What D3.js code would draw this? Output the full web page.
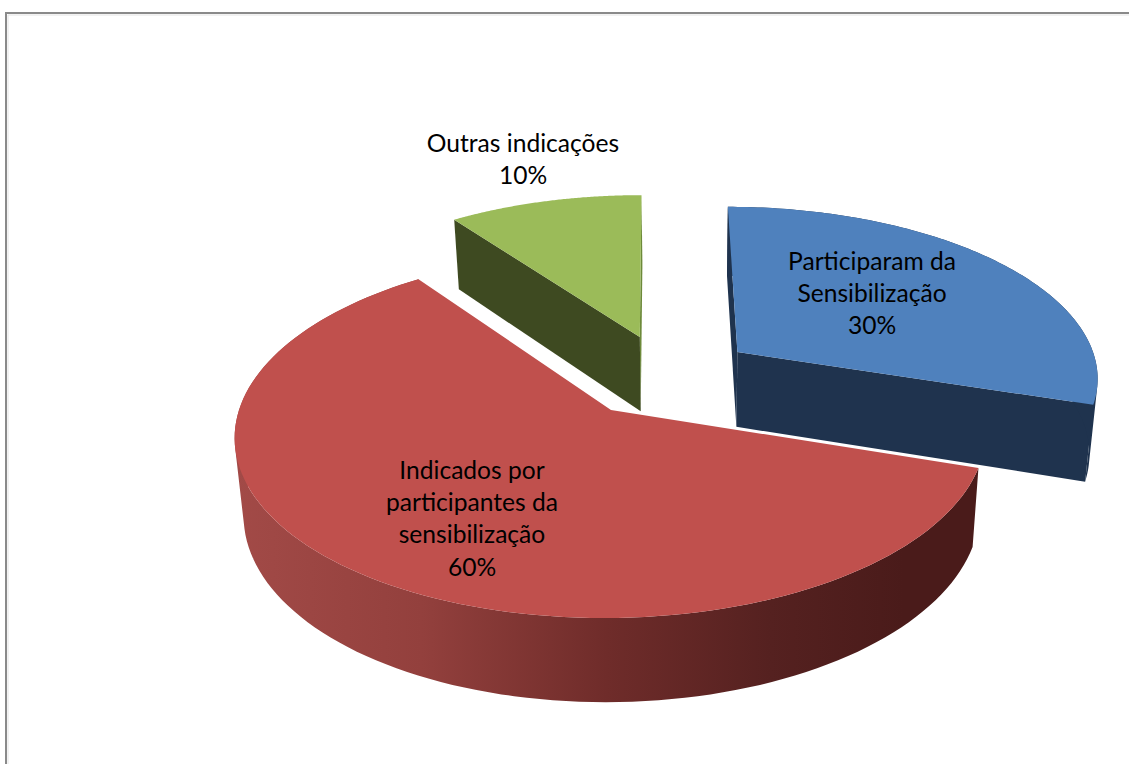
<!DOCTYPE html>
<html><head><meta charset="utf-8">
<script src="https://cdn.jsdelivr.net/npm/d3@7"></script>
<style>html,body{margin:0;padding:0;background:#fff;overflow:hidden}svg{display:block}
text{font-family:Lato,"Noto Sans",sans-serif;font-size:24.6px;fill:#000}</style>
</head><body><div id="c"></div>
<script>
const categories = ["Participaram da Sensibilização","Indicados por participantes da sensibilização","Outras indicações"];
const values = [30,60,10];
const labelLines = [["Participaram da","Sensibilização","30%"],["Indicados por","participantes da","sensibilização","60%"],["Outras indicações","10%"]];
const topColors = ["#4f81bd","#c0504d","#9bbb59"];
const sideColors = ["#1f334e","#4a1b1a","#3e4a21"];
const explode = [[0.35,-0.338],[0,0],[0.075,-0.43]];
const labelPos = [[872,261],[472,470],[523,143]];

const W=1129,H=764;
const svg=d3.select("#c").append("svg").attr("width",W).attr("height",H);

// frame
svg.append("path").attr("d","M6 764V13H1129").attr("fill","none").attr("stroke","#8a8a8a").attr("stroke-width",2);
svg.append("path").attr("d","M8 764V15H1129").attr("fill","none").attr("stroke","#e4e4e4").attr("stroke-width",1);

// perspective projection of the pie's disc
const cx=611,cy=410,A=372,S=6,B=179.6,k=0.1366,D=77,k2=0.085,shrink=0.98,botShift=1.5;
const top3=(u,v)=>{const w=1-k*v;return [cx+(A*u-S*v)/w,cy+B*v/w];};
const bot3=(u,v)=>{const w=1-k*v;return [cx+botShift+shrink*(A*u-S*v)/w,cy+B*v/w+D/(1-k2*v)];};

const pie=d3.pie().sort(null).startAngle(0).endAngle(2*Math.PI);
const arcs=pie(values);
const line=d3.line();
const rim=(e,fn,a0,a1)=>d3.range(0,121).map(i=>{const t=a0+(a1-a0)*i/120;return fn(Math.sin(t)+e[0],-Math.cos(t)+e[1]);});
const oriented=q=>d3.polygonArea(q)<0?q.slice().reverse():q;

// gradient for red wall
const defs=svg.append("defs");
const g=defs.append("linearGradient").attr("id","redWall").attr("gradientUnits","userSpaceOnUse")
  .attr("x1",236).attr("x2",978).attr("y1",0).attr("y2",0);
[[0,"#a24a47"],[0.25,"#93403d"],[0.5,"#6f2c2a"],[0.72,"#552120"],[0.9,"#4a1b1a"],[1,"#4a1b1a"]]
  .forEach(s=>g.append("stop").attr("offset",s[0]).attr("stop-color",s[1]));

// draw order: back slices first
[2,0,1].forEach(i=>{
  const s=arcs[i],e=explode[i],c=sideColors[i];
  const a0=s.startAngle,a1=s.endAngle;
  const gp=svg.append("g").attr("class","slice").attr("data-name",categories[i]);
  const ap=top3(e[0],e[1]), bp=bot3(e[0],e[1]);
  const quad=(a)=>{const u=Math.sin(a)+e[0],v=-Math.cos(a)+e[1];return [ap,top3(u,v),bot3(u,v),bp];};
  if(i===0){
    gp.append("path").attr("d",line(quad(a0))+"Z").attr("fill",c);
    gp.append("path").attr("d",line(quad(a1))+"Z").attr("fill",c);
  }
  if(i===2){
    gp.append("path").attr("d",line(quad(a1))+"Z").attr("fill","#6d8a3a");
    gp.append("path").attr("d",line(quad(a0))+"Z").attr("fill",c);
  }
  // outer wall: union of small quads, so the silhouette is the true envelope
  const tr=rim(e,top3,a0,a1), br=rim(e,bot3,a0,a1);
  if(i===0||i===1){
    let d="";
    d3.range(0,tr.length-1).forEach(j=>{
      d+=line(oriented([tr[j],tr[j+1],br[j+1],br[j]]))+"Z";
    });
    gp.append("path").attr("d",d).attr("fill",i===1?"url(#redWall)":c);
  }
  gp.append("path").attr("d",line([ap].concat(tr))+"Z").attr("fill",topColors[i]);
});

// labels
labelLines.forEach((ls,i)=>{
  const t=svg.append("text").attr("text-anchor","middle");
  ls.forEach((l,j)=>t.append("tspan").attr("x",labelPos[i][0]).attr("y",labelPos[i][1]+j*32.3).attr("dy","0.35em").text(l));
});
</script></body></html>
